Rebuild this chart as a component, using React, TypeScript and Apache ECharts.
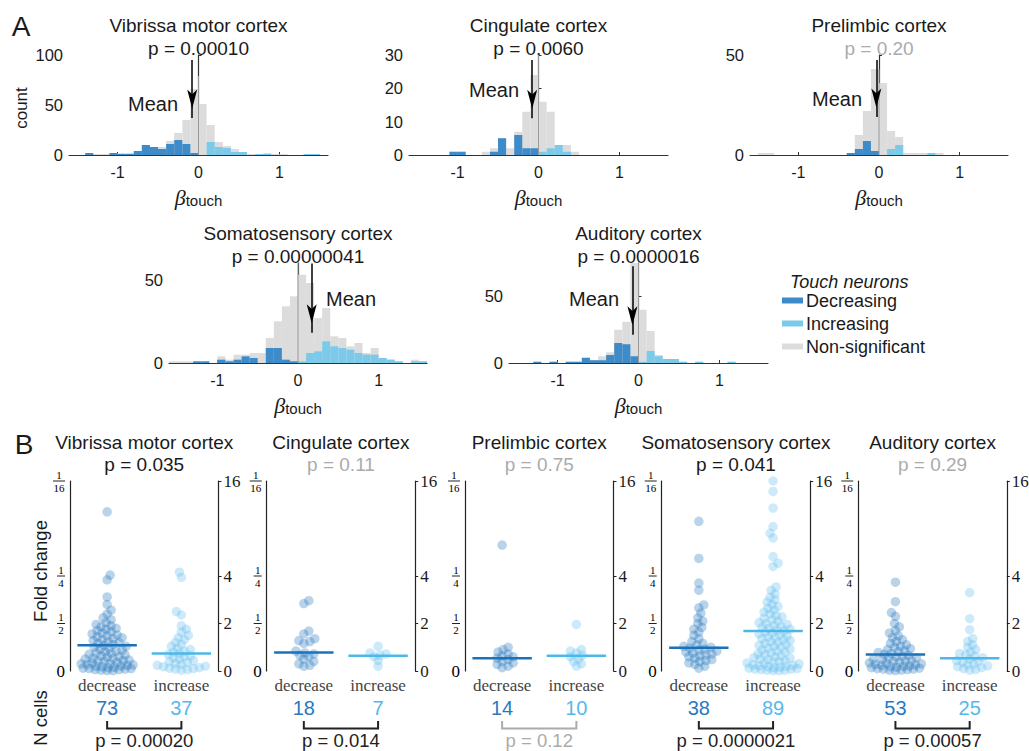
import React, { useEffect, useRef } from "react";
import * as echarts from "echarts";

const SANS = "'Liberation Sans', Arial, Helvetica, sans-serif";
const SERIF = "'Liberation Serif', 'Times New Roman', serif";
const TXT = "#1a1a1a";
const AX = "#333333";
const GRAYTXT = "#ababab";
const C_DEC = "#3d8bc8";
const C_INC = "#7ccaea";
const C_NS = "#dcdcdc";
const P_DEC = "#2277bf";
const P_INC = "#62bfee";
const N_DEC = "#2a79c0";
const N_INC = "#56b8ea";

// ---------- Panel A : histograms of beta_touch (bins of 0.1 from -1.6 to 1.6) ----------
const REGIONS = ["Vibrissa motor cortex", "Cingulate cortex", "Prelimbic cortex", "Somatosensory cortex", "Auditory cortex"];
const BIN_START = -1.6;
const BIN_WIDTH = 0.1;

const vmcAll = [0, 0, 2, 1, 1, 2, 2, 2, 4, 10, 8, 8, 14, 22, 35, 66, 51, 30, 13, 9, 6, 3, 1, 1, 2, 1, 1, 0, 0, 1, 1, 0];
const vmcDec = [0, 0, 2, 0, 0, 2, 1, 1, 4, 10, 8, 6, 11, 15, 11, 2, 0, 0, 0, 0, 0, 0, 0, 0, 0, 0, 0, 0, 0, 0, 0, 0];
const vmcInc = [0, 0, 0, 0, 0, 0, 0, 0, 0, 0, 0, 0, 0, 0, 0, 0, 0, 13, 8, 7, 3, 3, 0, 1, 1, 0, 0, 0, 0, 1, 1, 0];

const cingAll = [0, 0, 0, 0, 0, 1, 1, 0, 0, 1, 2, 5, 2, 7, 13, 24, 16, 13, 3, 3, 1, 0, 0, 0, 0, 0, 0, 0, 0, 0, 0, 0];
const cingDec = [0, 0, 0, 0, 0, 1, 1, 0, 0, 0, 1, 5, 0, 6, 2, 2, 0, 0, 0, 0, 0, 0, 0, 0, 0, 0, 0, 0, 0, 0, 0, 0];
const cingInc = [0, 0, 0, 0, 0, 0, 0, 0, 0, 0, 0, 0, 0, 0, 0, 0, 1, 2, 3, 1, 0, 0, 0, 0, 0, 0, 0, 0, 0, 0, 0, 0];

const preAll = [0, 1, 1, 0, 0, 0, 0, 0, 0, 0, 0, 0, 1, 10, 22, 43, 36, 12, 9, 1, 1, 1, 1, 1, 0, 0, 0, 0, 0, 0, 0, 0];
const preDec = [0, 0, 0, 0, 0, 0, 0, 0, 0, 0, 0, 0, 1, 3, 7, 2, 0, 0, 0, 0, 0, 0, 0, 0, 0, 0, 0, 0, 0, 0, 0, 0];
const preInc = [0, 0, 0, 0, 0, 0, 0, 0, 0, 0, 0, 0, 0, 0, 0, 0, 0, 3, 5, 0, 0, 0, 1, 0, 0, 0, 0, 0, 0, 0, 0, 0];

const somAll = [1, 1, 1, 1, 1, 0, 4, 2, 5, 5, 6, 6, 15, 25, 34, 40, 53, 48, 27, 33, 16, 15, 10, 12, 6, 9, 3, 2, 1, 0, 2, 1];
const somDec = [0, 0, 0, 1, 1, 0, 2, 1, 2, 4, 3, 0, 9, 9, 2, 1, 0, 0, 0, 0, 0, 0, 0, 0, 0, 0, 0, 0, 0, 0, 0, 0];
const somInc = [0, 0, 0, 0, 0, 0, 0, 0, 0, 0, 0, 0, 0, 0, 0, 0, 1, 6, 7, 13, 10, 9, 8, 6, 5, 5, 3, 2, 1, 0, 1, 1];

const audAll = [0, 0, 0, 1, 0, 1, 0, 1, 1, 4, 2, 5, 8, 25, 31, 80, 40, 24, 6, 3, 3, 1, 0, 1, 0, 0, 0, 1, 0, 0, 0, 0];
const audDec = [0, 0, 0, 1, 0, 1, 0, 1, 1, 4, 2, 2, 6, 15, 14, 5, 0, 0, 0, 0, 0, 0, 0, 0, 0, 0, 0, 0, 0, 0, 0, 0];
const audInc = [0, 0, 0, 0, 0, 0, 0, 0, 0, 0, 0, 0, 0, 0, 0, 0, 1, 9, 5, 3, 3, 1, 0, 1, 0, 0, 0, 1, 0, 0, 0, 0];

const HIST_ALL = [vmcAll, cingAll, preAll, somAll, audAll];
const HIST_DEC = [vmcDec, cingDec, preDec, somDec, audDec];
const HIST_INC = [vmcInc, cingInc, preInc, somInc, audInc];
const Y_MAX = [100, 30, 50, 60, 75];
const Y_TICKS = [[0, 50, 100], [0, 10, 20, 30], [0, 50], [0, 50], [0, 50]];
const X_TICKS = [-1, 0, 1];
const ZERO_LINE_TOP = [79, 30, 43, 60, 75];
const MEAN_BETA = [-0.078, -0.078, -0.033, 0.17, -0.075];
const ARROW_FROM = [95, 28.5, 47.5, 59.7, 72.5];
const ARROW_TO = [37, 11, 19, 18.2, 21.2];
const A_P_TEXT = ["0.00010", "0.0060", "0.20", "0.00000041", "0.0000016"];
const A_P_VAL = [0.0001, 0.006, 0.2, 0.00000041, 0.0000016];

// ---------- Panel B : |log2 fold change| per cell ----------
const vmcDecFold = [3.35, 2.02, 1.92, 1.56, 1.4, 1.28, 1.2, 1.12, 1.08, 1.02, 0.98, 0.95, 0.93, 0.9, 0.88, 0.85, 0.83, 0.8, 0.78, 0.76, 0.74, 0.72, 0.7, 0.68, 0.66, 0.64, 0.62, 0.6, 0.58, 0.56, 0.54, 0.52, 0.5, 0.48, 0.46, 0.44, 0.42, 0.4, 0.38, 0.37, 0.35, 0.34, 0.32, 0.3, 0.29, 0.27, 0.26, 0.25, 0.23, 0.22, 0.21, 0.2, 0.18, 0.17, 0.16, 0.15, 0.14, 0.13, 0.12, 0.11, 0.1, 0.09, 0.08, 0.07, 0.06, 0.05, 0.05, 0.04, 0.03, 0.03, 0.02, 0.01, 0.01];
const vmcIncFold = [2.08, 1.97, 1.25, 1.18, 0.95, 0.88, 0.82, 0.75, 0.7, 0.66, 0.6, 0.56, 0.52, 0.48, 0.45, 0.42, 0.4, 0.37, 0.35, 0.32, 0.3, 0.28, 0.25, 0.22, 0.2, 0.18, 0.16, 0.14, 0.12, 0.1, 0.09, 0.07, 0.06, 0.05, 0.04, 0.03, 0.02];
const cingDecFold = [1.48, 1.42, 0.84, 0.78, 0.68, 0.64, 0.62, 0.58, 0.42, 0.38, 0.36, 0.33, 0.3, 0.25, 0.2, 0.15, 0.12, 0.1];
const cingIncFold = [0.52, 0.38, 0.36, 0.33, 0.3, 0.22, 0.1];
const preDecFold = [2.65, 0.5, 0.45, 0.4, 0.36, 0.32, 0.3, 0.27, 0.24, 0.2, 0.17, 0.14, 0.1, 0.07];
const preIncFold = [0.98, 0.45, 0.42, 0.38, 0.33, 0.3, 0.25, 0.2, 0.15, 0.1];
const somDecFold = [3.15, 2.37, 1.85, 1.7, 1.39, 1.33, 1.22, 1.12, 1.05, 1.0, 0.92, 0.88, 0.82, 0.75, 0.68, 0.62, 0.58, 0.55, 0.52, 0.5, 0.48, 0.46, 0.44, 0.42, 0.4, 0.38, 0.36, 0.34, 0.32, 0.3, 0.27, 0.24, 0.22, 0.2, 0.17, 0.14, 0.1, 0.06];
const somIncFold = [4.0, 3.78, 3.43, 3.04, 2.9, 2.8, 2.41, 2.27, 2.2, 1.77, 1.7, 1.62, 1.55, 1.5, 1.45, 1.4, 1.36, 1.32, 1.28, 1.24, 1.2, 1.17, 1.14, 1.11, 1.08, 1.05, 1.02, 1.0, 0.98, 0.96, 0.94, 0.92, 0.9, 0.88, 0.86, 0.84, 0.82, 0.8, 0.78, 0.76, 0.74, 0.72, 0.7, 0.68, 0.66, 0.64, 0.62, 0.6, 0.58, 0.56, 0.54, 0.52, 0.5, 0.48, 0.46, 0.44, 0.42, 0.4, 0.38, 0.36, 0.34, 0.32, 0.3, 0.28, 0.27, 0.25, 0.24, 0.22, 0.2, 0.19, 0.17, 0.16, 0.15, 0.13, 0.12, 0.11, 0.1, 0.09, 0.08, 0.07, 0.06, 0.05, 0.04, 0.04, 0.03, 0.02, 0.02, 0.01, 0.01];
const audDecFold = [1.87, 1.46, 1.23, 1.15, 1.0, 0.93, 0.85, 0.8, 0.74, 0.7, 0.66, 0.62, 0.58, 0.55, 0.52, 0.5, 0.47, 0.45, 0.43, 0.41, 0.39, 0.37, 0.35, 0.33, 0.31, 0.3, 0.28, 0.27, 0.25, 0.24, 0.22, 0.21, 0.2, 0.18, 0.17, 0.16, 0.15, 0.14, 0.13, 0.12, 0.11, 0.1, 0.09, 0.08, 0.07, 0.06, 0.05, 0.04, 0.04, 0.03, 0.02, 0.02, 0.01];
const audIncFold = [1.65, 1.1, 0.87, 0.68, 0.62, 0.55, 0.5, 0.45, 0.4, 0.37, 0.34, 0.31, 0.28, 0.25, 0.22, 0.2, 0.18, 0.15, 0.13, 0.11, 0.09, 0.07, 0.05, 0.03, 0.02];

const FOLD_DEC = [vmcDecFold, cingDecFold, preDecFold, somDecFold, audDecFold];
const FOLD_INC = [vmcIncFold, cingIncFold, preIncFold, somIncFold, audIncFold];
const MEAN_DEC = [0.54, 0.39, 0.27, 0.49, 0.35];
const MEAN_INC = [0.37, 0.32, 0.32, 0.84, 0.27];
const B_P_TEXT = ["0.035", "0.11", "0.75", "0.041", "0.29"];
const B_P_VAL = [0.035, 0.11, 0.75, 0.041, 0.29];
const N_P_TEXT = ["0.00020", "0.014", "0.12", "0.0000021", "0.00057"];
const N_P_VAL = [0.0002, 0.014, 0.12, 0.0000021, 0.00057];
const FOLD_TICKS = [0, 1, 2, 4];
const GROUPS = ["decrease", "increase"];

// ---------- layout ----------
const A_LAYOUT = [
  { left: 69, top: 55, w: 259 },
  { left: 409, top: 55, w: 259 },
  { left: 750, top: 55, w: 258 },
  { left: 169, top: 263, w: 258 },
  { left: 509, top: 263, w: 259 },
];
const A_H = 100;
const MEAN_TEXT_POS = [[153, 104], [494, 90], [837, 99], [351, 299], [594, 299]];
const B_LEFTS = [70, 266.7, 465, 661.7, 858.3];
const B_TOP = 481;
const B_W = 148.5;
const B_H = 190;

function binData(counts: number[]) {
  const out: number[][] = [];
  counts.forEach((c, i) => {
    if (c > 0) {
      const x0 = +(BIN_START + i * BIN_WIDTH).toFixed(2);
      out.push([x0, +(x0 + BIN_WIDTH).toFixed(2), c]);
    }
  });
  return out;
}

function histRender(color: string) {
  return (params: any, api: any) => {
    const x0 = api.value(0);
    const x1 = api.value(1);
    const c = api.value(2);
    const p0 = api.coord([x0, c]);
    const p1 = api.coord([x1, 0]);
    const cs = params.coordSys;
    const rect = echarts.graphic.clipRectByRect(
      { x: p0[0], y: p0[1], width: p1[0] - p0[0], height: p1[1] - p0[1] },
      { x: cs.x, y: cs.y, width: cs.width, height: cs.height }
    );
    if (!rect) return null;
    return { type: "rect", shape: rect, style: { fill: color } };
  };
}

// deterministic beeswarm layout (pixel offsets) for the jittered dots
function swarm(vals: number[], pxPerY: number, minDist: number, maxPx: number): number[] {
  const order = vals.map((_, i) => i).sort((a, b) => vals[a] - vals[b]);
  const placed: number[][] = [];
  const out: number[] = new Array(vals.length).fill(0);
  order.forEach((i, n) => {
    const y = vals[i] * pxPerY;
    let bestX = 0;
    let bestOv = Infinity;
    outer: for (let k = 0; k <= maxPx; k += 1) {
      const cands = k === 0 ? [0] : n % 2 ? [k, -k] : [-k, k];
      for (const x of cands) {
        let ov = 0;
        for (const p of placed) {
          const d = Math.hypot(p[0] - x, p[1] - y);
          if (d < minDist) ov += minDist - d;
        }
        if (ov < bestOv) {
          bestOv = ov;
          bestX = x;
        }
        if (ov === 0) break outer;
      }
    }
    placed.push([bestX, y]);
    out[i] = bestX;
  });
  return out;
}

function text(t: string, x: number, y: number, size: number, opts: any = {}) {
  return {
    type: "text",
    x,
    y,
    rotation: opts.rotation || 0,
    silent: true,
    style: {
      text: t,
      fill: opts.color || TXT,
      font: `${opts.italic ? "italic " : ""}${size}px ${opts.family || SANS}`,
      align: opts.align || "center",
      verticalAlign: "middle",
    },
  };
}

function buildOption() {
  const grid: any[] = [];
  const xAxis: any[] = [];
  const yAxis: any[] = [];
  const series: any[] = [];
  const elements: any[] = [];

  // ----- Panel A -----
  A_LAYOUT.forEach((g, i) => {
    grid.push({ left: g.left, top: g.top, width: g.w, height: A_H, containLabel: false, outerBoundsMode: "none" });
    xAxis.push({
      type: "value",
      gridIndex: i,
      min: -1.6,
      max: 1.6,
      axisLine: { show: true, onZero: false, lineStyle: { color: AX, width: 1.2 } },
      axisTick: { show: true, inside: true, length: 3, customValues: X_TICKS, lineStyle: { color: AX } },
      axisLabel: { customValues: X_TICKS, fontFamily: SANS, fontSize: 16, color: TXT, margin: 9 },
      splitLine: { show: false },
      name: "{b|β}{s|touch}",
      nameLocation: "middle",
      nameGap: 31,
      nameTextStyle: {
        rich: {
          b: { fontFamily: SERIF, fontStyle: "italic", fontSize: 22, color: TXT, lineHeight: 22, verticalAlign: "top" },
          s: { fontFamily: SANS, fontSize: 15, color: TXT, lineHeight: 16, padding: [11, 0, 0, 0], verticalAlign: "bottom" },
        },
      },
    });
    yAxis.push({
      type: "value",
      gridIndex: i,
      min: 0,
      max: Y_MAX[i],
      axisLine: { show: true, lineStyle: { color: AX, width: 1.2 } },
      axisTick: { show: true, inside: true, length: 3, customValues: Y_TICKS[i], lineStyle: { color: AX } },
      axisLabel: { customValues: Y_TICKS[i], fontFamily: SANS, fontSize: 16.5, color: TXT, margin: 6 },
      splitLine: { show: false },
    });
    const common = { xAxisIndex: i, yAxisIndex: i, silent: true, encode: { x: [0, 1], y: 2 } };
    series.push({ type: "custom", name: "Non-significant", ...common, renderItem: histRender(C_NS), data: binData(HIST_ALL[i]), z: 1 });
    series.push({ type: "custom", name: "Decreasing", ...common, renderItem: histRender(C_DEC), data: binData(HIST_DEC[i]), z: 2 });
    series.push({ type: "custom", name: "Increasing", ...common, renderItem: histRender(C_INC), data: binData(HIST_INC[i]), z: 2 });
    series.push({
      type: "line",
      xAxisIndex: i,
      yAxisIndex: i,
      silent: true,
      z: 3,
      symbol: "none",
      data: [[0, 0], [0, ZERO_LINE_TOP[i]]],
      lineStyle: { color: "#9a9a9a", width: 1 },
      markLine: {
        silent: true,
        symbol: ["none", "arrow"],
        symbolSize: [7.5, 19],
        symbolOffset: [0, [0, 9.5]],
        lineStyle: { color: "#000", width: 1.5, type: "solid" },
        label: { show: false },
        data: [[{ coord: [MEAN_BETA[i], ARROW_FROM[i]] }, { coord: [MEAN_BETA[i], ARROW_TO[i]] }]],
      },
    });
    const cx = g.left + g.w / 2;
    elements.push(text(REGIONS[i], cx, g.top - 30, 19));
    elements.push(text(`p = ${A_P_TEXT[i]}`, cx, g.top - 7, 19, { color: A_P_VAL[i] > 0.05 ? GRAYTXT : TXT }));
    elements.push(text("Mean", MEAN_TEXT_POS[i][0], MEAN_TEXT_POS[i][1], 20));
  });

  // ----- Panel B -----
  const fracRich: any = {
    z: { fontFamily: SERIF, fontSize: 17, color: "#000" },
    n: { fontFamily: SERIF, fontSize: 11, color: "#000", width: 8, align: "center", lineHeight: 10 },
    nl: { width: 8, height: 1, lineHeight: 3, fontSize: 1, backgroundColor: "#222" },
    w: { fontFamily: SERIF, fontSize: 11, color: "#000", width: 12, align: "center", lineHeight: 10 },
    wl: { width: 12, height: 1, lineHeight: 3, fontSize: 1, backgroundColor: "#222" },
  };
  B_LEFTS.forEach((left, i) => {
    const gi = 5 + i;
    grid.push({ left, top: B_TOP, width: B_W, height: B_H, containLabel: false, outerBoundsMode: "none" });
    xAxis.push({
      type: "value",
      gridIndex: gi,
      min: 0.5,
      max: 2.5,
      axisLine: { show: false },
      axisTick: { show: false },
      axisLabel: {
        customValues: [1, 2],
        formatter: (v: number) => GROUPS[Math.round(v) - 1],
        fontFamily: SERIF,
        fontSize: 17,
        color: "#444",
        margin: 6,
      },
      splitLine: { show: false },
    });
  });
  B_LEFTS.forEach((_, i) => {
    const gi = 5 + i;
    yAxis.push({
      type: "value",
      gridIndex: gi,
      position: "left",
      min: 0,
      max: 4,
      axisLine: { show: true, lineStyle: { color: "#222", width: 1.2 } },
      axisTick: { show: false },
      axisLabel: {
        customValues: FOLD_TICKS,
        margin: 5,
        formatter: (v: number) => {
          if (v === 0) return "{z|0}";
          const d = Math.pow(2, v);
          const k = d >= 10 ? "w" : "n";
          return `{${k}|1}\n{${k}l| }\n{${k}|${d}}`;
        },
        rich: fracRich,
      },
      splitLine: { show: false },
    });
  });
  B_LEFTS.forEach((_, i) => {
    const gi = 5 + i;
    yAxis.push({
      type: "value",
      gridIndex: gi,
      position: "right",
      min: 0,
      max: 4,
      axisLine: { show: true, lineStyle: { color: "#222", width: 1.2 } },
      axisTick: { show: true, inside: false, length: 3, customValues: FOLD_TICKS, lineStyle: { color: "#222" } },
      axisLabel: {
        customValues: FOLD_TICKS,
        margin: 5,
        formatter: (v: number) => (v === 0 ? "0" : String(Math.pow(2, v))),
        fontFamily: SERIF,
        fontSize: 17,
        color: TXT,
      },
      splitLine: { show: false },
    });
  });

  const pxPerX = B_W / 2;
  const pxPerY = B_H / 4;
  B_LEFTS.forEach((left, i) => {
    const xi = 5 + i;
    const yi = 5 + i;
    const groups = [FOLD_DEC[i], FOLD_INC[i]];
    const means = [MEAN_DEC[i], MEAN_INC[i]];
    groups.forEach((vals, gIdx) => {
      const c = gIdx + 1;
      const offs = swarm(vals, pxPerY, 5.5, 26);
      series.push({
        type: "scatter",
        name: GROUPS[gIdx],
        xAxisIndex: xi,
        yAxisIndex: yi,
        silent: true,
        clip: false,
        symbol: "circle",
        symbolSize: 9.5,
        itemStyle: { color: gIdx === 0 ? P_DEC : P_INC, opacity: 0.32, borderWidth: 0, borderColor: "transparent" },
        data: vals.map((v, k) => [c + offs[k] / pxPerX, v]),
        z: 2,
      });
      series.push({
        type: "line",
        xAxisIndex: xi,
        yAxisIndex: yi,
        silent: true,
        symbol: "none",
        z: 4,
        data: [[c - 0.4, means[gIdx]], [c + 0.4, means[gIdx]]],
        lineStyle: { color: gIdx === 0 ? "#1a72bb" : "#4cb8ea", width: 2.5 },
      });
    });
    const cx = left + B_W / 2;
    const x1 = left + B_W * 0.25;
    const x2 = left + B_W * 0.75;
    elements.push(text(REGIONS[i], cx, 442, 19));
    elements.push(text(`p = ${B_P_TEXT[i]}`, cx, 464, 19, { color: B_P_VAL[i] > 0.05 ? GRAYTXT : TXT }));
    elements.push(text(String(FOLD_DEC[i].length), x1, 708, 20, { color: N_DEC }));
    elements.push(text(String(FOLD_INC[i].length), x2, 708, 20, { color: N_INC }));
    const bc = N_P_VAL[i] > 0.05 ? GRAYTXT : "#222";
    elements.push({
      type: "polyline",
      silent: true,
      shape: { points: [[x1, 721], [x1, 728.5], [x2, 728.5], [x2, 721]] },
      style: { stroke: bc, lineWidth: 2, fill: null },
    });
    elements.push(text(`p = ${N_P_TEXT[i]}`, (x1 + x2) / 2, 740.5, 18.5, { color: bc }));
  });

  // ----- labels, legend -----
  elements.push(text("A", 21, 26, 28));
  elements.push(text("B", 24, 444, 28));
  elements.push(text("count", 21, 108, 17, { rotation: Math.PI / 2 }));
  elements.push(text("Fold change", 40, 571, 18.5, { rotation: Math.PI / 2 }));
  elements.push(text("N cells", 40, 718, 18.5, { rotation: Math.PI / 2 }));

  elements.push(text("Touch neurons", 790, 282, 18, { italic: true, align: "left" }));
  const legend = [["Decreasing", C_DEC], ["Increasing", C_INC], ["Non-significant", C_NS]];
  legend.forEach(([label, color], k) => {
    const y = 300.5 + k * 23;
    elements.push({ type: "rect", silent: true, shape: { x: 782, y: y - 3, width: 21, height: 6 }, style: { fill: color } });
    elements.push(text(label, 806, y, 18, { align: "left" }));
  });

  return {
    animation: false,
    backgroundColor: "#ffffff",
    grid,
    xAxis,
    yAxis,
    series,
    graphic: { elements },
  };
}

export default function App() {
  const ref = useRef<HTMLDivElement>(null);
  useEffect(() => {
    const chart = echarts.init(ref.current as HTMLDivElement, null, { renderer: "svg" });
    chart.setOption(buildOption() as any);
    return () => chart.dispose();
  }, []);
  return <div ref={ref} style={{ position: "fixed", left: 0, top: 0, width: 1029, height: 751 }} />;
}
